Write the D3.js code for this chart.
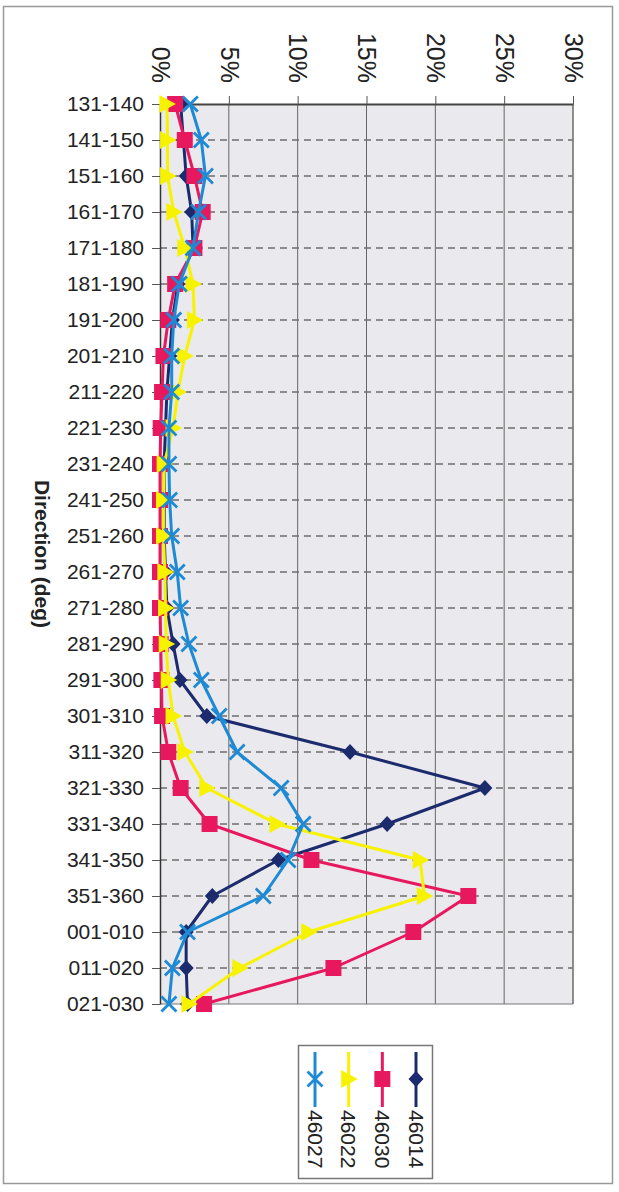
<!DOCTYPE html>
<html>
<head>
<meta charset="utf-8">
<script src="https://cdn.jsdelivr.net/npm/d3@7"></script>
<style>
  html, body { margin: 0; padding: 0; background: #fff; }
  svg { display: block; font-family: "Liberation Sans", Arial, sans-serif; }
</style>
</head>
<body>
<svg id="chart" width="619" height="1192"></svg>
<script>
const categories = ["131-140","141-150","151-160","161-170","171-180","181-190","191-200","201-210","211-220","221-230","231-240","241-250","251-260","261-270","271-280","281-290","291-300","301-310","311-320","321-330","331-340","341-350","351-360","001-010","011-020","021-030"];
const s46014 = [1.5,1.7,1.9,2.3,2.4,1.3,0.9,0.7,0.5,0.4,0.3,0.3,0.3,0.4,0.5,0.95,1.45,3.4,13.8,23.6,16.5,8.6,3.8,1.9,1.9,2.0];
const s46030 = [1.1,1.8,2.5,3.1,2.5,1.1,0.6,0.25,0.15,0.05,0,0,0,0,0,0.05,0.1,0.15,0.6,1.5,3.6,11.0,22.4,18.4,12.6,3.2];
const s46022 = [0.5,0.55,0.55,1.0,1.8,2.4,2.5,1.8,1.3,0.95,0.3,0.25,0.25,0.35,0.4,0.45,0.6,0.95,1.8,3.4,8.5,18.9,19.2,10.8,5.8,2.1];
const s46027 = [2.2,3.0,3.3,2.8,2.4,1.4,1.0,0.85,0.85,0.65,0.65,0.7,0.85,1.25,1.5,2.1,3.0,4.3,5.6,8.8,10.4,9.3,7.5,2.0,0.9,0.65];
const pctTicks = [0,5,10,15,20,25,30];
const seriesNames = ["46014","46030","46022","46027"];

const series = [
  {name: seriesNames[0], values: s46014, color: "#1c2b6d", marker: "diamond"},
  {name: seriesNames[1], values: s46030, color: "#e8185e", marker: "square"},
  {name: seriesNames[2], values: s46022, color: "#f7f200", marker: "triangle"},
  {name: seriesNames[3], values: s46027, color: "#1f8ad4", marker: "x"}
];

const svg = d3.select("#chart");
const L = 160, R = 573, T = 104, B = 1004;
const x = d3.scaleLinear().domain([0, 30]).range([L, R]);
const y = d3.scalePoint().domain(categories).range([T, B]);

// outer frame
svg.append("rect").attr("x", 3.5).attr("y", 6.5).attr("width", 609).attr("height", 1177)
  .attr("fill", "none").attr("stroke", "#999").attr("stroke-width", 1.5);

// plot background
svg.append("rect").attr("x", L).attr("y", T).attr("width", R - L).attr("height", B - T)
  .attr("fill", "#eaeaee");

// vertical gridlines
svg.append("g").selectAll("line").data(pctTicks.slice(1)).join("line")
  .attr("x1", d => x(d)).attr("x2", d => x(d)).attr("y1", T).attr("y2", B)
  .attr("stroke", "#666").attr("stroke-width", 1);

// horizontal dashed gridlines
svg.append("g").selectAll("line").data(categories.slice(1, -1)).join("line")
  .attr("x1", L).attr("x2", R).attr("y1", d => y(d)).attr("y2", d => y(d))
  .attr("stroke", "#6e6e6e").attr("stroke-width", 1.6).attr("stroke-dasharray", "7,5");

// plot border
svg.append("line").attr("x1", R).attr("x2", R).attr("y1", T).attr("y2", B).attr("stroke", "#777").attr("stroke-width", 1.2);
svg.append("line").attr("x1", L).attr("x2", R).attr("y1", B).attr("y2", B).attr("stroke", "#777").attr("stroke-width", 1.2);

// top axis (percent)
const xAxis = d3.axisTop(x).tickValues(pctTicks).tickSize(8).tickSizeOuter(0).tickFormat(d => d + "%");
const gx = svg.append("g").attr("transform", `translate(0,${T})`).call(xAxis);
gx.select(".domain").attr("stroke", "#444").attr("stroke-width", 1.8);
gx.selectAll(".tick line").attr("stroke", "#555");
gx.selectAll(".tick text")
  .attr("x", 0).attr("y", 0).attr("dy", "0.35em")
  .attr("transform", "translate(0,-21) rotate(90)")
  .attr("text-anchor", "end")
  .attr("font-size", 25).attr("fill", "#222")
  .attr("font-family", "'Liberation Sans', Arial, sans-serif");

// left axis (categories)
const yAxis = d3.axisLeft(y).tickSize(8).tickSizeOuter(0).tickPadding(8);
const gy = svg.append("g").attr("transform", `translate(${L},0)`).call(yAxis);
gy.select(".domain").attr("stroke", "#333").attr("stroke-width", 1.5);
gy.selectAll(".tick line").attr("stroke", "#555");
gy.selectAll(".tick text").attr("font-size", 21).attr("fill", "#222")
  .attr("font-family", "'Liberation Sans', Arial, sans-serif");

// axis title
svg.append("text").attr("transform", "translate(42,554) rotate(90)")
  .attr("text-anchor", "middle").attr("dy", "0.35em")
  .attr("font-size", 21).attr("font-weight", "bold").attr("fill", "#222")
  .text("Direction (deg)");

function markerPath(type) {
  switch (type) {
    case "diamond": return "M0,-8L7.5,0L0,8L-7.5,0Z";
    case "square": return "M-8,-8H8V8H-8Z";
    case "triangle": return "M-7.5,-9L9,0L-7.5,9Z";
    case "x": return "M-7.5,-7.5L7.5,7.5M-7.5,7.5L7.5,-7.5";
  }
}

function drawMarker(g, type, color) {
  const p = g.append("path").attr("d", markerPath(type));
  if (type === "x") p.attr("fill", "none").attr("stroke", color).attr("stroke-width", 2.8);
  else p.attr("fill", color);
}

const line = d3.line().x(d => x(d.v)).y(d => y(d.c));

series.forEach(s => {
  const pts = categories.map((c, i) => ({c, v: s.values[i]}));
  const g = svg.append("g");
  g.append("path").datum(pts).attr("d", line)
    .attr("fill", "none").attr("stroke", s.color).attr("stroke-width", 3)
    .attr("stroke-linejoin", "round");
  pts.forEach(p => {
    const mg = g.append("g").attr("transform", `translate(${x(p.v)},${y(p.c)})`);
    drawMarker(mg, s.marker, s.color);
  });
});

// legend
const leg = svg.append("g");
leg.append("rect").attr("x", 298.5).attr("y", 1045.5).attr("width", 134).attr("height", 133)
  .attr("fill", "#fff").attr("stroke", "#777").attr("stroke-width", 1.5);
const legendX = d3.scalePoint().domain(seriesNames.slice().reverse()).range([315, 416]);
series.forEach(s => {
  const cx = legendX(s.name);
  leg.append("line").attr("x1", cx).attr("x2", cx).attr("y1", 1052).attr("y2", 1107)
    .attr("stroke", s.color).attr("stroke-width", 3);
  const mg = leg.append("g").attr("transform", `translate(${cx},1079)`);
  drawMarker(mg, s.marker, s.color);
  leg.append("text").attr("transform", `translate(${cx},1110) rotate(90)`)
    .attr("dy", "0.35em").attr("font-size", 21).attr("fill", "#222")
    .text(s.name);
});
</script>
</body>
</html>
